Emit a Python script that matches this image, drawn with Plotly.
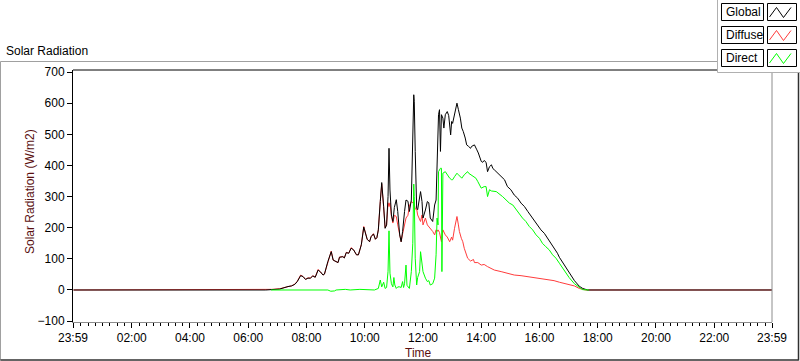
import plotly.graph_objects as go

# ---------------- data (times HH:MM, values W/m2) ----------------
global_times = ["00:00","06:36","07:05","07:15","07:22","07:29","07:36","07:41","07:48","07:53","07:58","08:03","08:08","08:13","08:18","08:24","08:29","08:34","08:37","08:44","08:51","08:55","09:01","09:05","09:08","09:15","09:18","09:22","09:27","09:32","09:37","09:43","09:47","09:53","09:58","10:01","10:05","10:10","10:13","10:18","10:22","10:25","10:28","10:32","10:35","10:39","10:42","10:45","10:48","10:50","10:52","10:55","10:58","11:01","11:05","11:08","11:12","11:15","11:18","11:22","11:25","11:29","11:32","11:36","11:39","11:41","11:42","11:44","11:47","11:49","11:53","11:55","11:58","12:00","12:05","12:09","12:12","12:15","12:20","12:24","12:27","12:29","12:32","12:34","12:36","12:38","12:41","12:43","12:46","12:50","12:53","12:57","12:59","13:01","13:05","13:08","13:10","13:13","13:17","13:20","13:23","13:27","13:30","13:34","13:38","13:40","13:44","13:46","13:51","13:54","14:00","14:03","14:06","14:10","14:13","14:17","14:21","14:24","14:27","14:34","14:41","14:48","14:54","15:01","15:08","15:15","15:22","15:29","15:36","15:43","15:49","15:56","16:03","16:10","16:17","16:24","16:30","16:37","16:41","16:51","17:01","17:12","17:22","17:29","17:35","17:39","23:59"]
global_vals = [0,0,3,9,11,13,18,27,46,43,34,38,38,45,41,64,58,48,51,91,123,96,91,88,105,107,103,120,118,134,129,113,113,145,202,182,163,155,171,180,163,168,193,284,345,268,198,209,300,455,321,241,220,265,290,252,177,155,188,252,289,285,252,289,445,627,606,445,263,258,295,316,284,231,257,284,280,231,220,273,289,445,563,579,445,563,552,520,563,573,560,498,541,535,563,584,600,579,552,520,509,488,466,461,455,461,466,466,450,440,413,410,416,410,380,396,402,390,386,375,364,354,332,322,305,295,279,268,252,236,225,209,193,182,166,150,134,118,105,82,55,30,12,5,2,0,0]

diffuse_times = ["00:00","06:34","06:36","06:48","07:05","07:15","07:22","07:29","07:36","07:41","07:48","07:53","07:58","08:03","08:08","08:13","08:18","08:24","08:29","08:34","08:37","08:44","08:51","08:55","09:01","09:05","09:08","09:15","09:18","09:22","09:27","09:32","09:37","09:43","09:47","09:53","09:58","10:01","10:05","10:10","10:13","10:18","10:22","10:25","10:28","10:32","10:35","10:39","10:42","10:45","10:48","10:50","10:52","10:55","10:58","11:01","11:05","11:08","11:12","11:15","11:18","11:22","11:25","11:29","11:32","11:36","11:39","11:41","11:42","11:44","11:47","11:49","11:55","11:58","12:00","12:05","12:09","12:15","12:20","12:24","12:27","12:29","12:31","12:34","12:38","12:41","12:46","12:50","12:55","12:59","13:01","13:05","13:08","13:10","13:13","13:15","13:19","13:22","13:25","13:29","13:32","13:38","13:44","13:46","13:53","14:00","14:06","14:13","14:20","14:27","14:41","14:54","15:08","15:22","15:36","15:49","16:03","16:17","16:30","16:41","16:51","17:12","17:22","17:29","17:35","23:59"]
diffuse_vals = [0,0,2,2,4,9,11,13,19,28,48,43,34,39,38,46,41,66,58,48,51,91,125,96,91,88,106,107,103,121,118,136,129,113,113,146,204,182,163,155,171,181,163,168,193,284,340,265,200,209,280,268,280,236,215,240,236,209,177,155,180,209,231,240,270,284,280,284,270,260,260,241,220,241,209,231,209,198,188,177,193,188,193,185,155,193,177,170,155,170,160,198,231,236,209,188,166,155,134,113,102,93,98,88,88,80,82,75,70,64,59,54,48,46,43,40,38,34,30,25,21,13,5,2,0,0]

direct_times = ["06:47","08:44","08:50","08:58","09:01","09:20","09:30","09:50","10:20","10:28","10:32","10:35","10:39","10:42","10:45","10:48","10:50","10:52","10:55","10:58","11:00","11:02","11:05","11:08","11:12","11:15","11:18","11:20","11:22","11:25","11:27","11:32","11:36","11:39","11:41","11:42","11:44","11:47","11:49","11:53","11:55","11:58","12:00","12:05","12:09","12:12","12:15","12:20","12:24","12:27","12:29","12:31","12:32","12:36","12:38","12:39","12:41","12:46","12:50","12:55","12:59","13:01","13:05","13:08","13:10","13:13","13:17","13:20","13:25","13:29","13:32","13:34","13:38","13:44","13:49","13:53","14:00","14:06","14:10","14:13","14:17","14:21","14:31","14:44","14:51","14:58","15:05","15:12","15:18","15:25","15:32","15:39","15:46","15:53","16:00","16:06","16:13","16:20","16:27","16:34","16:41","16:51","17:01","17:12","17:22","17:29","17:42"]
direct_vals = [0,0,-4,-3,0,2,0,2,0,5,32,10,25,5,8,60,190,54,20,10,40,16,5,10,10,8,27,8,20,80,15,5,59,150,340,300,102,16,40,59,123,80,59,38,27,30,16,20,38,113,231,209,380,391,391,59,375,380,370,359,354,354,364,370,375,370,364,359,370,375,380,375,370,365,359,348,327,332,332,300,322,318,316,300,289,279,273,257,247,231,220,204,193,177,166,150,139,129,113,102,86,62,40,20,8,1,0]

series_names = ["Global", "Diffuse", "Direct"]
series_colors = ["#000000", "#ff3c3c", "#00ff00"]
x_tick_labels = ["23:59","02:00","04:00","06:00","08:00","10:00","12:00","14:00","16:00","18:00","20:00","22:00","23:59"]
y_tick_vals = [-100, 0, 100, 200, 300, 400, 500, 600, 700]


def to_min(s):
    h, m = s.split(":")
    return int(h) * 60 + int(m)


for t, v in [(global_times, global_vals), (diffuse_times, diffuse_vals), (direct_times, direct_vals)]:
    assert len(t) == len(v), (len(t), len(v))

# ---------------- geometry helpers (pixel -> paper) ----------------
L, R, T, B = 73, 772, 70, 322
W, H = 800, 361


def px(x):
    return (x - L) / (R - L)


def py(y):
    return (B - y) / (B - T)


FONT = "Liberation Sans, Arial, sans-serif"

fig = go.Figure()
order = [1, 0, 2]  # diffuse under global, direct on top
data_sets = [(global_times, global_vals), (diffuse_times, diffuse_vals), (direct_times, direct_vals)]
for i in order:
    t, v = data_sets[i]
    fig.add_trace(go.Scatter(
        x=[to_min(s) for s in t], y=v, mode="lines", name=series_names[i],
        line=dict(color=series_colors[i], width=1), hoverinfo="skip", showlegend=False))

major_vals = [-1] + [120 * k for k in range(1, 12)] + [1439]
minor_vals = [15 * k for k in range(1, 96) if (15 * k) % 120 != 0]

fig.update_xaxes(
    range=[-1, 1439], tickmode="array", tickvals=major_vals, ticktext=x_tick_labels,
    ticks="outside", ticklen=5, tickcolor="#000", tickwidth=1,
    showline=True, linecolor="#8c8c8c", linewidth=1, showgrid=False, zeroline=False,
    tickfont=dict(family=FONT, size=12, color="#000"),
    minor=dict(tickmode="array", tickvals=minor_vals, ticks="outside", ticklen=3, tickcolor="#000", tickwidth=1, showgrid=False),
)
fig.update_yaxes(
    range=[-102.8, 706.5], tickmode="array", tickvals=y_tick_vals,
    ticks="outside", ticklen=5, tickcolor="#000", tickwidth=1,
    showline=True, linecolor="#000", linewidth=1, showgrid=False, zeroline=False,
    tickfont=dict(family=FONT, size=12, color="#000"),
)

shapes = []
# plot frame: top black, right gray
shapes.append(dict(type="line", xref="paper", yref="paper", x0=0, x1=1, y0=1, y1=1, line=dict(color="#000", width=1)))
shapes.append(dict(type="line", xref="paper", yref="paper", x0=1, x1=1, y0=0, y1=1, line=dict(color="#8c8c8c", width=1)))
# outer panel border
shapes.append(dict(type="line", xref="paper", yref="paper", x0=px(0.5), x1=px(798.5), y0=py(61.5), y1=py(61.5), line=dict(color="#a0a0a0", width=1)))
shapes.append(dict(type="line", xref="paper", yref="paper", x0=px(0.5), x1=px(0.5), y0=py(61.5), y1=py(360.5), line=dict(color="#a0a0a0", width=1)))
shapes.append(dict(type="line", xref="paper", yref="paper", x0=px(0.5), x1=px(798.5), y0=py(360), y1=py(360), line=dict(color="#303030", width=1.5)))
shapes.append(dict(type="line", xref="paper", yref="paper", x0=px(798.5), x1=px(798.5), y0=py(61.5), y1=py(360.5), line=dict(color="#303030", width=1.5)))
# legend background
shapes.append(dict(type="rect", xref="paper", yref="paper", x0=px(717.5), x1=px(801), y0=py(-1), y1=py(72.5),
                   fillcolor="#ffffff", line=dict(color="#b0b0b0", width=1), layer="above"))
rows = [(3.5, 20.5), (26.5, 43.5), (49.5, 66.5)]
annotations = []
for i, (y0, y1) in enumerate(rows):
    shapes.append(dict(type="rect", xref="paper", yref="paper", x0=px(721.5), x1=px(763.5), y0=py(y1), y1=py(y0),
                       fillcolor="#ffffff", line=dict(color="#000", width=1), layer="above"))
    shapes.append(dict(type="rect", xref="paper", yref="paper", x0=px(767.5), x1=px(796.5), y0=py(y1), y1=py(y0),
                       fillcolor="#ffffff", line=dict(color="#000", width=1), layer="above"))
    pts = [(769.5, y1 - 3.5), (776.5, y0 + 4), (783.5, y1 - 3), (791, y0 + 4)]
    path = "M " + " L ".join(f"{px(a):.5f},{py(b):.5f}" for a, b in pts)
    shapes.append(dict(type="path", xref="paper", yref="paper", path=path, line=dict(color=series_colors[i], width=1), layer="above"))
    annotations.append(dict(xref="paper", yref="paper", x=px(724), y=py((y0 + y1) / 2), text=series_names[i],
                            showarrow=False, xanchor="left", yanchor="middle",
                            font=dict(family=FONT, size=12, color="#000")))

annotations.append(dict(xref="paper", yref="paper", x=px(4), y=py(51), text="Solar Radiation", showarrow=False,
                        xanchor="left", yanchor="middle", font=dict(family=FONT, size=12, color="#000")))
annotations.append(dict(xref="paper", yref="paper", x=px(30), y=py(192), text="Solar Radiation (W/m2)", showarrow=False,
                        textangle=-90, xanchor="center", yanchor="middle", font=dict(family=FONT, size=12, color="#5a1010")))
annotations.append(dict(xref="paper", yref="paper", x=px(418), y=py(353), text="Time", showarrow=False,
                        xanchor="center", yanchor="middle", font=dict(family=FONT, size=12, color="#5a1010")))

fig.update_layout(
    width=W, height=H, margin=dict(l=L, r=W - R, t=T, b=H - B, pad=0),
    paper_bgcolor="#ffffff", plot_bgcolor="#ffffff",
    shapes=shapes, annotations=annotations, showlegend=False,
    font=dict(family=FONT, size=12, color="#000"),
)

fig.write_html("out.html", config={"displayModeBar": False},
               post_script="document.body.style.margin='0px';document.body.style.padding='0px';document.body.style.overflow='hidden';")
